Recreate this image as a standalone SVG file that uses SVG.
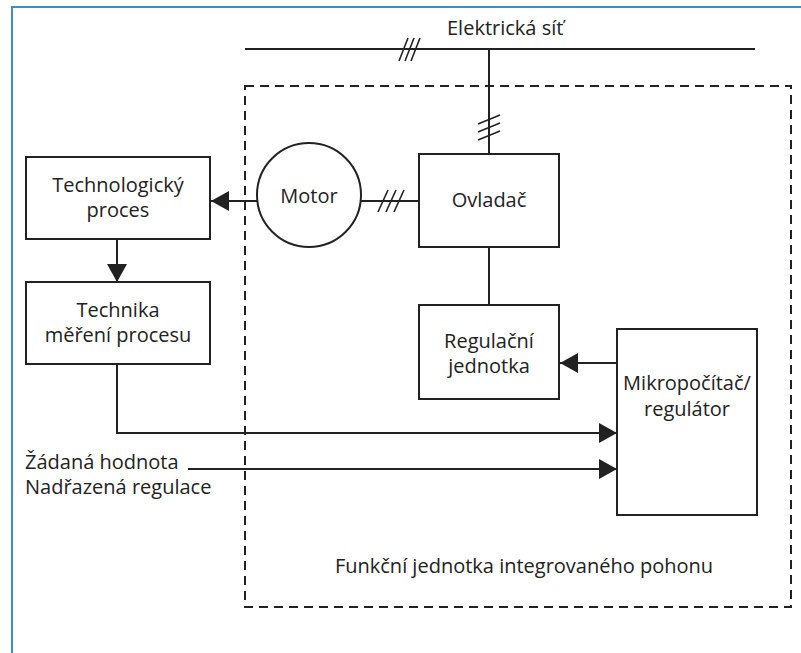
<svg xmlns="http://www.w3.org/2000/svg" width="801" height="653" viewBox="0 0 801 653">
  <defs>
    <marker id="arrow" markerUnits="userSpaceOnUse" markerWidth="20" markerHeight="20" viewBox="0 0 18 20" refX="18" refY="10" orient="auto">
      <path d="M0,0 L18,10 L0,20 Z" fill="#222"/>
    </marker>
    <style>
      .frame { fill: none; stroke: #3b8ccb; stroke-width: 2; }
      .box { fill: #fff; stroke: #222; stroke-width: 2; }
      .line { fill: none; stroke: #222; stroke-width: 2; }
      .tick { fill: none; stroke: #222; stroke-width: 1.6; }
      .dash { fill: none; stroke: #222; stroke-width: 2; stroke-dasharray: 9 6; }
      .label { font-family: "Open Sans", "Noto Sans", "Liberation Sans", sans-serif; font-size: 20px; fill: #222; }
      .mid { text-anchor: middle; }
    </style>
  </defs>

  <!-- page frame -->
  <rect class="frame" x="12" y="7" width="800" height="660"/>

  <!-- integrated drive unit boundary -->
  <g id="drive-unit">
    <rect class="dash" x="245" y="86" width="546" height="521"/>
    <text class="label mid" x="524" y="573">Funkční jednotka integrovaného pohonu</text>
  </g>

  <!-- mains bus -->
  <g id="mains">
    <line class="line" x1="245" y1="49" x2="755" y2="49"/>
    <text class="label" x="447" y="35">Elektrická síť</text>
  </g>

  <g id="connectors">
    <!-- mains to controller -->
    <line class="line" x1="489" y1="49" x2="489" y2="154"/>
    <!-- motor to controller -->
    <line class="line" x1="361" y1="201" x2="419" y2="201"/>
    <!-- motor drives the process -->
    <line class="line" x1="257" y1="201" x2="211" y2="201" marker-end="url(#arrow)"/>
    <!-- process to measurement -->
    <line class="line" x1="117" y1="239" x2="117" y2="282" marker-end="url(#arrow)"/>
    <!-- controller to regulation unit -->
    <line class="line" x1="489" y1="247" x2="489" y2="305"/>
    <!-- microcomputer to regulation unit -->
    <line class="line" x1="617" y1="363" x2="560" y2="363" marker-end="url(#arrow)"/>
    <!-- measurement feedback -->
    <polyline class="line" points="117,364 117,433 617,433" marker-end="url(#arrow)"/>
    <!-- setpoint input -->
    <line class="line" x1="188" y1="469" x2="617" y2="469" marker-end="url(#arrow)"/>

    <!-- three-phase ticks -->
    <g class="tick">
      <line x1="399" y1="61" x2="408" y2="38"/>
      <line x1="405" y1="61" x2="414" y2="38"/>
      <line x1="411" y1="61" x2="420" y2="38"/>

      <line x1="478" y1="124" x2="500" y2="115"/>
      <line x1="478" y1="132" x2="500" y2="123"/>
      <line x1="478" y1="140" x2="500" y2="131"/>

      <line x1="378" y1="212" x2="388" y2="190"/>
      <line x1="386" y1="212" x2="396" y2="190"/>
      <line x1="394" y1="212" x2="404" y2="190"/>
    </g>
  </g>

  <g id="technologicky-proces">
    <rect class="box" x="26" y="157" width="184" height="82"/>
    <text class="label mid" x="118" y="192">Technologický</text>
    <text class="label mid" x="118" y="217">proces</text>
  </g>

  <g id="technika-mereni">
    <rect class="box" x="26" y="282" width="184" height="82"/>
    <text class="label mid" x="118" y="317">Technika</text>
    <text class="label mid" x="118" y="342">měření procesu</text>
  </g>

  <g id="motor">
    <circle class="box" cx="309" cy="195" r="52"/>
    <text class="label mid" x="309" y="203">Motor</text>
  </g>

  <g id="ovladac">
    <rect class="box" x="419" y="154" width="140" height="93"/>
    <text class="label mid" x="489" y="207">Ovladač</text>
  </g>

  <g id="regulacni-jednotka">
    <rect class="box" x="419" y="305" width="140" height="94"/>
    <text class="label mid" x="489" y="348">Regulační</text>
    <text class="label mid" x="489" y="373">jednotka</text>
  </g>

  <g id="mikropocitac">
    <rect class="box" x="617" y="329" width="140" height="186"/>
    <text class="label mid" x="687" y="390">Mikropočítač/</text>
    <text class="label mid" x="687" y="416">regulátor</text>
  </g>

  <g id="zadana-hodnota">
    <text class="label" x="25" y="469">Žádaná hodnota</text>
    <text class="label" x="25" y="494">Nadřazená regulace</text>
  </g>
</svg>
